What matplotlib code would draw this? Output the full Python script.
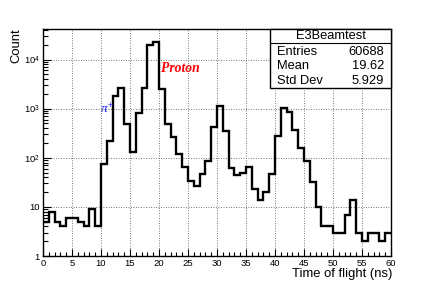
import matplotlib
matplotlib.use("Agg")
import matplotlib.pyplot as plt
import numpy as np
from matplotlib.ticker import FixedLocator, MultipleLocator, LogLocator, FuncFormatter, NullFormatter

plt.rcParams['font.family'] = ['Liberation Sans', 'DejaVu Sans']
plt.rcParams['mathtext.fontset'] = 'custom'
plt.rcParams['mathtext.rm'] = 'Liberation Sans'
plt.rcParams['mathtext.it'] = 'Liberation Serif:italic'

# Data: time of flight histogram, 1 ns bins from 0 to 60 ns
bin_edges = list(range(0, 61))
counts = [5, 8, 5, 4, 6, 6, 5, 4, 9, 4,
          74, 222, 1780, 2630, 485, 133, 815, 2680, 20200, 23200,
          2550, 490, 268, 120, 65, 34, 27, 47, 88, 422,
          1120, 347, 61, 44, 48, 65, 23, 14, 20, 47,
          280, 1040, 860, 375, 162, 88, 32, 10, 4, 4,
          3, 3, 7, 14, 3, 2, 3, 3, 2, 3]

stats_title = "E3Beamtest"
stats_names = ["Entries", "Mean", "Std Dev"]
stats_values = ["60688", "19.62", "5.929"]

x_label = "Time of flight (ns)"
y_label = "Count"

W, H = 436, 284
fig = plt.figure(figsize=(W / 100, H / 100), dpi=100)
L, R, T, B = 43, 391, 29, 256
ax = fig.add_axes([L / W, 1 - B / H, (R - L) / W, (B - T) / H])

ax.stairs(counts, bin_edges, baseline=None, color='black', linewidth=1.7, zorder=3)

ax.set_yscale('log')
ax.set_xlim(0, 60)
ax.set_ylim(1, 4.2e4)

ax.xaxis.set_major_locator(MultipleLocator(5))
ax.xaxis.set_minor_locator(MultipleLocator(1))
ax.yaxis.set_major_locator(LogLocator(base=10, numticks=10))
ax.yaxis.set_minor_locator(LogLocator(base=10, subs=np.arange(2, 10), numticks=10))
ax.yaxis.set_minor_formatter(NullFormatter())

def yfmt(v, pos):
    e = int(round(np.log10(v)))
    if e == 0:
        return "1"
    if e == 1:
        return "10"
    return r"$10^{%d}$" % e

ax.yaxis.set_major_formatter(FuncFormatter(yfmt))

ax.tick_params(axis='both', which='both', direction='in', top=False, right=False,
               width=0.8, labelsize=6.8, colors='black')
ax.tick_params(axis='y', which='major', length=6, pad=2.2)
ax.tick_params(axis='y', which='minor', length=3.5)
ax.tick_params(axis='x', which='major', length=5, pad=1.8)
ax.tick_params(axis='x', which='minor', length=3)

ax.grid(True, which='major', color='#666666', linestyle=(0, (1.2, 1.8)), linewidth=0.6)
ax.set_axisbelow(True)
for s in ax.spines.values():
    s.set_linewidth(1.0)
    s.set_color('black')

fig.text(16.5 / W, 1 - 28 / H, y_label, rotation=90, ha='center', va='top', fontsize=9.4)
fig.text(392 / W, 1 - 273.5 / H, x_label, ha='right', va='center', fontsize=9.4)

# annotations
ax.text(20.4, 10 ** 3.74, "Proton", color='#ff0000', fontsize=9.8,
        family='Liberation Serif', fontweight='bold', fontstyle='italic', va='baseline', zorder=4)
ax.text(9.9, 10 ** 2.905, r"$\mathit{\pi}^{+}$", color='#2020ff', fontsize=9.5,
        va='baseline', zorder=4)

# stats box
bx0, bx1, by0, by1 = 0.652, 1.0, 0.739, 1.0
ax.add_patch(plt.Rectangle((bx0, by0), bx1 - bx0, by1 - by0, transform=ax.transAxes,
                           facecolor='white', edgecolor='black', linewidth=1.0, zorder=5,
                           clip_on=False))
ax.plot([bx0, bx1], [0.937, 0.937], transform=ax.transAxes, color='black', lw=0.8, zorder=6)
ax.text((bx0 + bx1) / 2, 0.969, stats_title, transform=ax.transAxes, ha='center', va='center',
        fontsize=9.3, zorder=6)
rows_y = [0.900, 0.837, 0.772]
for yy, n, v in zip(rows_y, stats_names, stats_values):
    ax.text(0.672, yy, n, transform=ax.transAxes, ha='left', va='center', fontsize=9.3, zorder=6)
    ax.text(0.981, yy, v, transform=ax.transAxes, ha='right', va='center', fontsize=9.3, zorder=6)

fig.savefig("out.png", dpi=100)
